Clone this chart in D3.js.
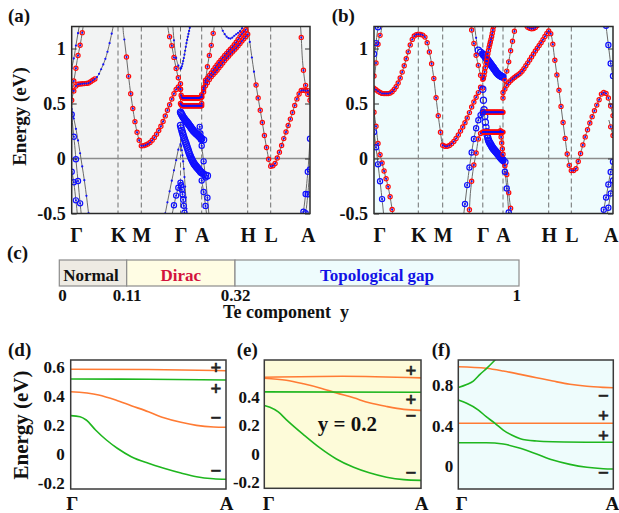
<!DOCTYPE html>
<html>
<head>
<meta charset="utf-8">
<script src="https://cdn.jsdelivr.net/npm/d3@7"></script>
<style>
  body { margin: 0; background: #fff; }
  svg text { font-family: "Liberation Serif", "Times New Roman", serif; font-weight: bold; }
</style>
</head>
<body>
<div id="chart"></div>
<script>
// k-path labels and energy ticks for the band panels
const kLabels = ["Γ", "K", "M", "Γ", "A", "H", "L", "A"];
const eTicks = [-0.5, 0, 0.5, 1];
// k-points per path segment (calc. mesh density)
const segDensity = [22, 11, 18, 32, 24, 11, 18];

// panel (a) bands: [k (node units), E (eV), optional projection]
// projection: r = red weight, b = blue weight, B = heavy blue, d = weak
const bandsA = [
  {p: "r", pts: [[1.2,1.25,"d"],[1.215,1.19,"d"],[1.28,1.07,"d"],[1.356,0.936],[1.5,0.664],[1.64,0.45],[1.785,0.27],[1.89,0.18],[2.0,0.115],[2.17,0.133],[2.34,0.194],[2.51,0.3],[2.68,0.45],[2.85,0.6],[2.94,0.65],[3.0,0.63]]},
  {p: "r", pts: [[3.0,0.63],[3.05,0.56],[3.15,0.55],[3.5,0.55],[3.85,0.55],[4.0,0.56]]},
  {p: "r", pts: [[3.0,0.5],[3.08,0.48],[3.5,0.48],[4.0,0.48]]},
  {p: "r", pts: [[4.0,0.5],[4.05,0.62],[4.14,0.7],[4.33,0.8],[4.54,0.91],[4.76,1.01],[4.94,1.1],[5.0,1.13]]},
  {p: "r", pts: [[4.0,0.56],[4.04,0.64],[4.08,0.69],[4.22,0.785],[4.5,0.936],[4.72,1.04],[4.87,1.13],[4.98,1.19],[5.05,1.25]]},
  {p: "r", pts: [[4.0,0.58],[4.07,0.68],[4.14,0.875],[4.22,1.057],[4.27,1.19],[4.3,1.26]]},
  {p: "d", pts: [[4.38,1.26],[4.43,1.19],[4.5,1.13],[4.62,1.09],[4.72,1.12],[4.87,1.18],[4.92,1.22]]},
  {p: "r", pts: [[5.0,1.21,"d"],[5.17,0.936,"d"],[5.39,0.633],[5.61,0.36],[5.83,0.087],[6.0,-0.07],[6.07,-0.065],[6.19,0.027],[6.36,0.21],[6.53,0.39],[6.7,0.57],[6.79,0.62],[6.87,0.62],[6.96,0.57],[7.0,0.53]]},
  {p: "r", pts: [[6.74,1.26],[6.77,1.15],[6.8,0.94],[6.84,0.78],[6.88,0.68],[6.94,0.62],[7.0,0.6]]},
  {p: "b", pts: [[6.82,-0.52],[6.88,-0.35],[6.93,-0.18],[6.97,0.0],[7.0,0.18]]},
  {p: "b", pts: [[6.88,-0.52],[6.93,-0.38],[6.97,-0.22],[7.0,-0.1]]},
  {p: "B", pts: [[3.0,0.42],[3.13,0.375],[3.37,0.315],[3.6,0.254],[3.84,0.209],[4.0,0.18],[4.07,0.164]]},
  {p: "B", pts: [[3.0,0.3],[3.13,0.21],[3.29,0.118],[3.45,0.027],[3.6,-0.034],[3.84,-0.094],[4.0,-0.13],[4.16,-0.16]]},
  {p: "d", pts: [[2.8,1.22],[2.86,0.98],[2.93,0.86],[3.0,0.815],[3.13,0.89],[3.29,1.057],[3.45,1.2],[3.5,1.25]]},
  {p: "r", pts: [[2.66,1.25],[2.68,1.19],[2.77,1.04],[2.86,0.87],[2.94,0.74],[3.0,0.68]]},
  {p: "d", pts: [[2.6,-0.52],[2.75,-0.25],[2.88,-0.03],[2.96,0.1],[3.0,0.13],[3.08,0.05],[3.18,-0.15],[3.3,-0.52]]},
  {p: "b", pts: [[2.78,-0.52],[2.88,-0.35],[2.96,-0.25],[3.0,-0.22],[3.06,-0.28],[3.14,-0.4],[3.2,-0.52]]},
  {p: "b", pts: [[3.9,0.3],[3.98,0.15],[4.04,-0.02],[4.09,-0.2],[4.13,-0.38],[4.16,-0.52]]},
  {p: "b", pts: [[3.98,-0.18],[4.04,-0.3],[4.08,-0.42],[4.11,-0.52]]},
  {p: "r", pts: [[0,0.53],[0.03,0.59],[0.08,0.65],[0.14,0.675],[0.35,0.685],[0.45,0.71],[0.57,0.754,"d"],[0.64,0.815,"d"],[0.75,0.936,"d"],[0.855,1.118,"d"],[0.92,1.25,"d"]]},
  {p: "r", pts: [[0,0.62],[0.065,0.75],[0.1,0.845],[0.136,0.936],[0.173,1.01],[0.207,1.09],[0.244,1.19],[0.27,1.26]]},
  {p: "d", pts: [[0,0.82],[0.05,0.92],[0.1,1.05],[0.17,1.22]]},
  {p: "b", pts: [[0,0.40],[0.03,0.26],[0.065,0.12],[0.1,-0.05],[0.14,-0.22],[0.18,-0.4],[0.21,-0.52]]},
  {p: "d", pts: [[0,0.45],[0.1,0.25],[0.2,0.0],[0.3,-0.28],[0.37,-0.52]]},
  {p: "b", pts: [[0,-0.12],[0.04,-0.2],[0.08,-0.34],[0.12,-0.5],[0.13,-0.55]]}
];

// panel (b) bands
const bandsB = [
  {p: "r", pts: [[0,0.64],[0.1,0.61],[0.21,0.59],[0.32,0.59],[0.44,0.62],[0.55,0.69],[0.66,0.815],[0.77,0.966],[0.85,1.07],[0.925,1.12],[1,1.13],[1.2,1.12],[1.34,1.07],[1.48,0.94],[1.62,0.755],[1.75,0.51],[1.89,0.27],[2,0.12],[2.1,0.11],[2.26,0.148],[2.43,0.24],[2.6,0.36],[2.76,0.5],[2.89,0.6],[2.955,0.65],[3,0.64]]},
  {p: "B", pts: [[3.0,0.63],[3.06,0.45],[3.125,0.33],[3.22,0.21],[3.42,0.118],[3.67,0.057],[3.92,0.0],[4.06,-0.04]]},
  {p: "B", pts: [[2.78,1.25,"d"],[2.84,1.08,"d"],[2.88,0.99],[2.95,0.965],[3.0,0.95],[3.26,0.89],[3.5,0.83],[3.75,0.77],[4.0,0.74]]},
  {p: "r", pts: [[2.95,0.43],[3.0,0.42],[3.5,0.42],[4.0,0.42]]},
  {p: "r", pts: [[2.95,0.25],[3.0,0.24],[3.5,0.24],[4.0,0.24]]},
  {p: "r", pts: [[2.7,1.22],[2.8,1.0],[2.89,0.845],[2.97,0.73],[3.0,0.72],[3.15,0.85],[3.3,1.0],[3.45,1.12],[3.55,1.22]]},
  {p: "r", pts: [[4.0,0.55],[4.04,0.63],[4.11,0.68],[4.26,0.74],[4.4,0.785],[4.55,0.875],[4.69,0.966],[4.84,1.057],[4.95,1.13],[5.0,1.16],[5.115,1.12],[5.265,0.905],[5.41,0.69],[5.56,0.45],[5.71,0.21],[5.85,0.0],[6.0,-0.11],[6.08,-0.11],[6.16,-0.034],[6.32,0.18],[6.48,0.36],[6.64,0.51],[6.76,0.6],[6.84,0.59],[6.92,0.51],[7.0,0.39]]},
  {p: "r", pts: [[4.0,0.6],[4.05,0.73],[4.11,0.845],[4.18,1.01],[4.22,1.09],[4.26,1.18],[4.29,1.25]]},
  {p: "r", pts: [[4.46,1.26],[4.52,1.2],[4.63,1.18],[4.74,1.2],[4.78,1.26]]},
  {p: "b", pts: [[2.52,-0.52],[2.56,-0.4],[2.6,-0.276],[2.64,-0.155],[2.72,0.05],[2.8,0.22],[2.9,0.36],[3.0,0.42]]},
  {p: "r", pts: [[2.66,-0.52],[2.68,-0.37],[2.72,-0.215],[2.85,0.087],[2.89,0.18],[2.93,0.22],[3.0,0.24]]},
  {p: "r", pts: [[3.85,0.3],[3.95,0.12],[4.03,-0.05],[4.07,-0.1],[4.1,-0.215],[4.15,-0.4],[4.19,-0.52]]},
  {p: "b", pts: [[4.0,-0.02],[4.06,-0.18],[4.1,-0.35],[4.13,-0.52]]},
  {p: "r", pts: [[0,0.42],[0.05,0.28],[0.1,0.11],[0.17,-0.02],[0.25,-0.15],[0.32,-0.26],[0.36,-0.34],[0.4,-0.44],[0.43,-0.52]]},
  {p: "b", pts: [[0,0.24],[0.04,0.12],[0.09,-0.05],[0.14,-0.22],[0.19,-0.4],[0.22,-0.52]]},
  {p: "r", pts: [[0,0.75],[0.023,0.785],[0.06,0.93],[0.097,1.057],[0.174,1.19],[0.19,1.25]]},
  {p: "b", pts: [[0,0.95],[0.03,1.0],[0.06,1.1],[0.1,1.22]]},
  {p: "b", pts: [[6.82,1.25],[6.88,1.06],[6.95,0.85],[7.0,0.75]]},
  {p: "b", pts: [[6.75,-0.52],[6.85,-0.32],[6.93,-0.15],[7.0,-0.03]]},
  {p: "b", pts: [[6.86,-0.52],[6.93,-0.35],[7.0,-0.2]]},
  {p: "r", pts: [[6.9,0.35],[6.95,0.28],[7.0,0.21]]}
];

// panel (c) phase diagram
const phaseNames = ["Normal", "Dirac", "Topological gap"];
const phaseBounds = [0, 0.11, 0.32, 1];

// panels (d)-(f): [Γ→A fraction, E]
const dOrangeTop = [[0,0.586],[0.5,0.584],[1,0.576]];
const dGreenTop  = [[0,0.519],[0.5,0.517],[1,0.512]];
const dOrangeLow = [[0,0.431],[0.18,0.409],[0.29,0.374],[0.39,0.335],[0.5,0.293],[0.6,0.252],[0.71,0.22],[0.81,0.199],[0.92,0.188],[1,0.186]];
const dGreenLow  = [[0,0.266],[0.06,0.259],[0.1,0.236],[0.16,0.167],[0.23,0.098],[0.3,0.041],[0.39,-0.017],[0.5,-0.063],[0.6,-0.097],[0.71,-0.13],[0.81,-0.155],[0.92,-0.169],[1,-0.173]];
const dSigns = [["+",0.60],["+",0.456],["−",0.256],["−",-0.113]];

const eOrangeTop = [[0,0.538],[0.5,0.545],[1,0.534]];
const eOrangeLow = [[0,0.531],[0.14,0.517],[0.25,0.492],[0.355,0.463],[0.46,0.428],[0.57,0.393],[0.67,0.358],[0.78,0.332],[0.89,0.312],[1,0.305]];
const eGreenTop  = [[0,0.435],[1,0.433]];
const eGreenLow  = [[0,0.339],[0.036,0.327],[0.089,0.294],[0.14,0.24],[0.25,0.134],[0.355,0.04],[0.46,-0.038],[0.57,-0.097],[0.67,-0.136],[0.78,-0.167],[0.89,-0.184],[1,-0.189]];
const eSigns = [["+",0.586],["+",0.378],["−",0.272],["−",-0.132]];

const fOrangeTop = [[0,0.986],[0.18,0.97],[0.29,0.943],[0.4,0.91],[0.505,0.877],[0.61,0.844],[0.72,0.812],[0.83,0.792],[0.935,0.782],[1,0.778]];
const fGreenUp   = [[0,0.78],[0.054,0.81],[0.097,0.844],[0.14,0.91],[0.183,0.97],[0.226,1.035],[0.26,1.09]];
const fOrangeMid = [[0,0.427],[1,0.427]];
const fGreenMid  = [[0,0.657],[0.054,0.624],[0.13,0.558],[0.18,0.492],[0.237,0.427],[0.29,0.36],[0.344,0.311],[0.4,0.275],[0.505,0.252],[0.61,0.245],[1,0.239]];
const fGreenLow  = [[0,0.235],[0.18,0.235],[0.29,0.222],[0.4,0.18],[0.505,0.124],[0.61,0.064],[0.72,0.021],[0.83,-0.008],[0.935,-0.022],[1,-0.025]];
const fSigns = [["−",0.706],["+",0.499],["+",0.311],["−",-0.061]];

const RED = "#ff0a0a", BLUE = "#1010ff", ORANGE = "#ff7b34", GREEN = "#1fb61f";
const ringR = {r: 2.1, b: 2.6, B: 3.1};

const svg = d3.select("#chart").append("svg")
  .attr("width", 619).attr("height", 513);

// x position on a drawn path -> y (path is monotone in x)
function yAtX(node, px) {
  let lo = 0, hi = node.getTotalLength();
  for (let i = 0; i < 24; i++) {
    const mid = (lo + hi) / 2;
    if (node.getPointAtLength(mid).x < px) lo = mid; else hi = mid;
  }
  return node.getPointAtLength((lo + hi) / 2).y;
}

const kSamples = [];
segDensity.forEach((n, s) => { for (let i = 0; i < n; i++) kSamples.push(s + i / n); });
kSamples.push(7);

function bandPanel(id, nodes, bands, bg, tag, tagX, first) {
  const x = d3.scaleLinear().domain(d3.range(8)).range(nodes);
  const y = d3.scaleLinear().domain([-0.5, 1.2]).range([213.5, 26.5]);
  const x0 = nodes[0], x1 = nodes[7];
  const g = svg.append("g");

  g.append("clipPath").attr("id", id).append("rect")
    .attr("x", x0).attr("y", y(1.2)).attr("width", x1 - x0).attr("height", y(-0.5) - y(1.2));
  g.append("rect").attr("x", x0).attr("y", y(1.2)).attr("width", x1 - x0).attr("height", y(-0.5) - y(1.2))
    .attr("fill", bg);

  g.selectAll("line.hs").data(d3.range(1, 7)).enter().append("line")
    .attr("x1", d => x(d)).attr("x2", d => x(d)).attr("y1", y(1.2)).attr("y2", y(-0.5))
    .attr("stroke", "#707070").attr("stroke-width", 1).attr("stroke-dasharray", "5,3");
  g.append("line").attr("x1", x0).attr("x2", x1).attr("y1", y(0)).attr("y2", y(0))
    .attr("stroke", "#8c8c8c").attr("stroke-width", 1.3);

  const plot = g.append("g").attr("clip-path", "url(#" + id + ")");
  const line = d3.line().x(d => x(d[0])).y(d => y(d[1])).curve(d3.curveMonotoneX);

  const marks = [];
  bands.forEach(b => {
    const path = plot.append("path").attr("d", line(b.pts))
      .attr("fill", "none").attr("stroke", "#6a6a6a").attr("stroke-width", 1);
    const node = path.node();
    const kmin = b.pts[0][0], kmax = b.pts[b.pts.length - 1][0];
    kSamples.filter(k => k >= kmin - 1e-9 && k <= kmax + 1e-9).forEach(k => {
      const px = x(k);
      const py = yAtX(node, px);
      if (py < y(1.26) || py > y(-0.56)) return;
      const near = d3.least(b.pts, q => Math.abs(q[0] - k));
      marks.push({x: px, y: py, p: near[2] || b.p});
    });
  });

  plot.selectAll("circle.ring").data(marks.filter(m => m.p !== "d")).enter().append("circle")
    .attr("class", "ring")
    .attr("cx", d => d.x).attr("cy", d => d.y)
    .attr("r", d => ringR[d.p])
    .attr("fill", "none")
    .attr("stroke", d => d.p === "r" ? RED : BLUE)
    .attr("stroke-width", 1.2);
  plot.selectAll("circle.dot").data(marks.filter(m => m.p !== "B")).enter().append("circle")
    .attr("class", "dot")
    .attr("cx", d => d.x).attr("cy", d => d.y)
    .attr("r", d => d.p === "d" ? 1.1 : 1.0)
    .attr("fill", BLUE);

  g.append("rect").attr("x", x0).attr("y", y(1.2)).attr("width", x1 - x0).attr("height", y(-0.5) - y(1.2))
    .attr("fill", "none").attr("stroke", "#2a2a2a").attr("stroke-width", 1.5);

  const ya = g.append("g").attr("transform", "translate(" + x0 + ",0)")
    .call(d3.axisLeft(y).tickValues(eTicks).tickFormat(d => String(d)).tickSizeInner(-5).tickSizeOuter(0).tickPadding(6));
  ya.select(".domain").remove();
  ya.selectAll("text").attr("font-size", 18).attr("fill", "#111");
  ya.selectAll("line").attr("stroke", "#333");
  const yr = g.append("g").attr("transform", "translate(" + x1 + ",0)")
    .call(d3.axisRight(y).tickValues(eTicks).tickFormat("").tickSizeInner(-5).tickSizeOuter(0));
  yr.select(".domain").remove();
  yr.selectAll("line").attr("stroke", "#333");

  const xa = g.append("g").attr("transform", "translate(0," + y(-0.5) + ")")
    .call(d3.axisBottom(x).tickValues(d3.range(8)).tickFormat(i => kLabels[i]).tickSize(0).tickPadding(14));
  xa.select(".domain").remove();
  xa.selectAll("text").attr("font-size", 20).attr("font-weight", "normal").attr("fill", "#111");
  xa.selectAll(".tick text").filter(d => d === 0).attr("text-anchor", "start").attr("x", first);
  xa.selectAll(".tick text").filter(d => d === 7).attr("text-anchor", "end").attr("x", 5);

  g.append("text").attr("x", tagX).attr("y", 22).attr("font-size", 19).attr("fill", "#111").text(tag);
}

bandPanel("clipA", [71.7, 118, 141.3, 180.5, 201.7, 247.7, 270.7, 310], bandsA, "#f2f3f3", "(a)", 8, -2);
bandPanel("clipB", [374, 418.3, 442.7, 482.8, 503, 548.7, 571.3, 613], bandsB, "#effcfd", "(b)", 331.7, -1);

svg.append("text").attr("transform", "translate(26,116.5) rotate(-90)")
  .attr("text-anchor", "middle").attr("font-size", 19).attr("fill", "#111").text("Energy (eV)");

// ---- panel (c)
const cx = d3.scaleLinear().domain(phaseBounds).range([59.3, 126.7, 235, 519]);
const phaseFill = ["#eeebe3", "#fffde4", "#eefcfd"];
const phaseInk = ["#111", "#d3123d", "#1212e6"];
const gc = svg.append("g");
gc.selectAll("rect").data(phaseNames).enter().append("rect")
  .attr("x", (d, i) => cx(phaseBounds[i])).attr("y", 260)
  .attr("width", (d, i) => cx(phaseBounds[i + 1]) - cx(phaseBounds[i])).attr("height", 26)
  .attr("fill", (d, i) => phaseFill[i]).attr("stroke", "#8c8c8c").attr("stroke-width", 1.2);
gc.selectAll("text.ph").data(phaseNames).enter().append("text")
  .attr("x", (d, i) => (cx(phaseBounds[i]) + cx(phaseBounds[i + 1])) / 2 - (i === 0 ? 2 : 0))
  .attr("y", 280.5).attr("text-anchor", "middle").attr("font-size", 17)
  .attr("fill", (d, i) => phaseInk[i]).text(d => d);
const ca = gc.append("g").attr("transform", "translate(0,286)")
  .call(d3.axisBottom(cx).tickValues(phaseBounds).tickFormat(d => String(d)).tickSize(0).tickPadding(3));
ca.select(".domain").remove();
ca.selectAll("text").attr("font-size", 17).attr("fill", "#111");
ca.selectAll(".tick text").filter(d => d === 0).attr("text-anchor", "start").attr("x", -1.5);
ca.selectAll(".tick text").filter(d => d === 1).attr("text-anchor", "end").attr("x", 1.5);
gc.append("text").attr("x", 286).attr("y", 318).attr("text-anchor", "middle")
  .attr("font-size", 18).attr("fill", "#111").style("white-space", "pre").text("Te component  y");
gc.append("text").attr("x", 7).attr("y", 259).attr("font-size", 19).attr("fill", "#111").text("(c)");

// ---- panels (d)-(f)
function smallPanel(o) {
  const x = d3.scaleLinear().domain([0, 1]).range([o.x0, o.x1]);
  const y = d3.scaleLinear().domain(o.dom).range([o.y1, 360]);
  const g = svg.append("g");
  g.append("clipPath").attr("id", o.id).append("rect")
    .attr("x", o.x0).attr("y", 360).attr("width", o.x1 - o.x0).attr("height", o.y1 - 360);
  g.append("rect").attr("x", o.x0).attr("y", 360).attr("width", o.x1 - o.x0).attr("height", o.y1 - 360)
    .attr("fill", o.bg);
  const line = d3.line().x(d => x(d[0])).y(d => y(d[1])).curve(d3.curveMonotoneX);
  const plot = g.append("g").attr("clip-path", "url(#" + o.id + ")");
  o.lines.forEach(l => plot.append("path").attr("d", line(l[0])).attr("fill", "none")
    .attr("stroke", l[1]).attr("stroke-width", 1.6));
  g.append("rect").attr("x", o.x0).attr("y", 360).attr("width", o.x1 - o.x0).attr("height", o.y1 - 360)
    .attr("fill", "none").attr("stroke", "#3a3a3a").attr("stroke-width", 1.5);

  g.selectAll("text.sg").data(o.signs).enter().append("text")
    .attr("x", o.x1 - 10).attr("y", d => y(d[1])).attr("text-anchor", "middle")
    .attr("dominant-baseline", "central").attr("font-size", 19)
    .attr("fill", "#222").attr("stroke", "#222").attr("stroke-width", 0.7).text(d => d[0]);

  const ya = g.append("g").attr("transform", "translate(" + o.x0 + ",0)")
    .call(d3.axisLeft(y).tickValues(o.ticks).tickFormat(d => String(d)).tickSize(0).tickPadding(o.pad));
  ya.select(".domain").remove();
  ya.selectAll("text").attr("font-size", 17).attr("fill", "#111");
  const xa = g.append("g").attr("transform", "translate(0," + o.y1 + ")")
    .call(d3.axisBottom(x).tickValues([0, 1]).tickFormat(d => d === 0 ? "Γ" : "A").tickSize(0).tickPadding(8));
  xa.select(".domain").remove();
  xa.selectAll("text").attr("font-size", 19).attr("fill", "#111");
  xa.selectAll(".tick text").filter(d => d === 0).attr("x", o.gx);
  xa.selectAll(".tick text").filter(d => d === 1).attr("x", o.ax);
  g.append("text").attr("x", o.tagX).attr("y", 356).attr("font-size", 19).attr("fill", "#111").text(o.tag);
  return {g: g, x: x, y: y};
}

smallPanel({id: "clipD", x0: 70.7, x1: 226, y1: 489, dom: [-0.24, 0.65], ticks: [-0.2, 0, 0.2, 0.4, 0.6],
  bg: "#ffffff", pad: 6, gx: 1, ax: 0, tag: "(d)", tagX: 8, signs: dSigns,
  lines: [[dOrangeTop, ORANGE], [dGreenTop, GREEN], [dOrangeLow, ORANGE], [dGreenLow, GREEN]]});

const pe = smallPanel({id: "clipE", x0: 264.3, x1: 421, y1: 488.3, dom: [-0.245, 0.66], ticks: [-0.2, 0, 0.2, 0.4],
  bg: "#fdfbd9", pad: 4.5, gx: 4, ax: 0, tag: "(e)", tagX: 236.7, signs: eSigns,
  lines: [[eOrangeTop, ORANGE], [eOrangeLow, ORANGE], [eGreenTop, GREEN], [eGreenLow, GREEN]]});
pe.g.append("text").attr("x", pe.x(0.53)).attr("y", pe.y(0.16)).attr("text-anchor", "middle")
  .attr("font-size", 21).attr("fill", "#111").text("y = 0.2");

smallPanel({id: "clipF", x0: 458.3, x1: 613.3, y1: 489, dom: [-0.222, 1.052], ticks: [0, 0.4, 0.8],
  bg: "#eefcfc", pad: 5, gx: 3, ax: -1.5, tag: "(f)", tagX: 431.7, signs: fSigns,
  lines: [[fOrangeTop, ORANGE], [fGreenUp, GREEN], [fOrangeMid, ORANGE], [fGreenMid, GREEN], [fGreenLow, GREEN]]});

svg.append("text").attr("transform", "translate(28,425) rotate(-90)")
  .attr("text-anchor", "middle").attr("font-size", 21).attr("fill", "#111").text("Energy (eV)");
</script>
</body>
</html>
